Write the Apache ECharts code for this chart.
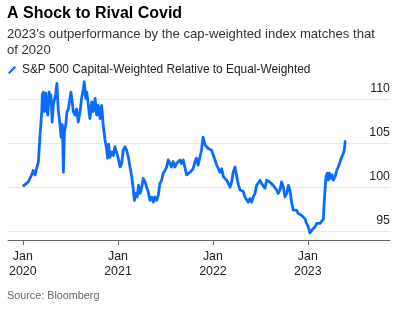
<!DOCTYPE html>
<html>
<head>
<meta charset="utf-8">
<script src="https://cdn.jsdelivr.net/npm/echarts@6/dist/echarts.min.js"></script>
<style>
  html, body { margin: 0; padding: 0; background: #fff; }
  #chart { width: 399px; height: 324px; }
</style>
</head>
<body>
<div id="chart"></div>
<script>
// S&P 500 cap-weighted index relative to the equal-weighted index (rebased to 100)
const dates = [
  '2020-01-01','2020-01-22','2020-02-04','2020-02-10','2020-02-17','2020-02-23','2020-03-01',
  '2020-03-07','2020-03-14','2020-03-16','2020-03-20','2020-03-24','2020-03-29','2020-04-02',
  '2020-04-06','2020-04-11','2020-04-15','2020-04-18','2020-04-23','2020-04-27','2020-05-01',
  '2020-05-06','2020-05-11','2020-05-16','2020-05-23','2020-05-27','2020-06-01','2020-06-05',
  '2020-06-09','2020-06-14','2020-06-19','2020-06-24','2020-07-01','2020-07-04','2020-07-09',
  '2020-07-13','2020-07-20','2020-07-26','2020-08-01','2020-08-08','2020-08-14','2020-08-21',
  '2020-08-24','2020-08-30','2020-09-03','2020-09-09','2020-09-15','2020-09-22','2020-09-28',
  '2020-10-05','2020-10-11','2020-10-17','2020-10-24','2020-10-30','2020-11-05','2020-11-12',
  '2020-11-18','2020-11-22','2020-11-26','2020-12-01','2020-12-08','2020-12-14','2020-12-20',
  '2020-12-27','2021-01-02','2021-01-09','2021-01-15','2021-01-21','2021-01-28','2021-02-03',
  '2021-02-10','2021-02-16','2021-02-23','2021-03-01','2021-03-05','2021-03-11','2021-03-16',
  '2021-03-21','2021-03-27','2021-04-02','2021-04-08','2021-04-15','2021-04-21','2021-04-27',
  '2021-05-04','2021-05-11','2021-05-17','2021-05-23','2021-05-30','2021-06-05','2021-06-11',
  '2021-06-18','2021-06-24','2021-07-01','2021-07-07','2021-07-13','2021-07-20','2021-07-26',
  '2021-08-01','2021-08-08','2021-08-14','2021-08-20','2021-08-27','2021-09-02','2021-09-09',
  '2021-09-15','2021-09-22','2021-09-28','2021-10-05','2021-10-11','2021-10-17','2021-10-24',
  '2021-10-30','2021-11-05','2021-11-12','2021-11-18','2021-11-24','2021-12-02','2021-12-08',
  '2021-12-14','2021-12-21','2021-12-27','2022-01-03','2022-01-09','2022-01-16','2022-01-22',
  '2022-01-28','2022-02-04','2022-02-10','2022-02-23','2022-03-08','2022-03-14','2022-03-20',
  '2022-03-27','2022-04-02','2022-04-08','2022-04-15','2022-04-21','2022-04-28','2022-05-04',
  '2022-05-11','2022-05-17','2022-05-23','2022-05-30','2022-06-05','2022-06-12','2022-06-18',
  '2022-06-24','2022-07-01','2022-07-07','2022-07-14','2022-07-20','2022-07-27','2022-08-02',
  '2022-08-08','2022-08-15','2022-08-21','2022-08-28','2022-09-03','2022-09-09','2022-09-16',
  '2022-09-22','2022-09-29','2022-10-05','2022-10-12','2022-10-18','2022-10-24','2022-10-31',
  '2022-11-06','2022-11-13','2022-11-19','2022-11-25','2022-12-02','2022-12-08','2022-12-14',
  '2022-12-21','2022-12-27','2023-01-03','2023-01-09','2023-01-16','2023-01-22','2023-01-29',
  '2023-02-04','2023-02-10','2023-02-17','2023-02-23','2023-03-02','2023-03-04','2023-03-08',
  '2023-03-12','2023-03-17','2023-03-21','2023-03-25','2023-03-30','2023-04-04','2023-04-09',
  '2023-04-16','2023-04-22','2023-04-28','2023-05-05','2023-05-11','2023-05-17','2023-05-21',
  '2023-05-25','2023-05-28'
];
const relative = [
  100.1,100.6,101.4,101.9,101.4,102.1,102.9,
  105.9,108.6,110.5,110.8,108.6,110.7,108.9,
  108.2,110.8,109.7,110.5,107.4,109.3,109.9,
  110.5,111.8,108.9,107.1,105.7,107.1,101.7,
  106.3,107.1,108.6,108.9,108.9,110.8,109.7,
  108.6,108.2,108.9,107.4,108.6,110.1,111.2,
  112.0,110.1,110.8,109.3,107.8,109.7,108.6,
  110.1,108.2,109.3,107.8,109.3,107.1,105.4,
  104.4,103.3,104.9,103.4,104.0,103.6,104.6,
  104.8,103.3,102.3,102.7,104.2,104.6,104.2,
  103.4,102.3,101.2,99.7,98.5,99.3,98.9,
  100.2,99.3,99.9,101.0,100.6,100.0,99.5,
  98.5,98.9,98.3,98.9,98.5,99.1,100.4,
  100.8,101.6,101.9,102.3,103.1,102.7,102.3,
  102.9,102.3,102.7,102.9,103.1,102.7,103.1,
  102.3,101.4,101.2,101.7,101.9,102.1,102.9,
  103.3,102.5,103.4,104.2,105.7,104.8,105.0,
  104.4,104.6,104.2,103.6,103.1,102.5,102.7,
  101.7,102.1,101.2,100.8,100.0,100.6,101.7,
  102.3,102.1,100.4,99.7,99.9,99.5,98.9,
  98.7,98.3,98.7,98.3,98.9,99.3,100.2,
  100.2,100.8,100.4,100.6,99.9,100.8,101.0,
  100.6,100.4,100.2,100.0,99.7,99.3,99.7,
  100.6,100.0,98.9,99.3,100.2,99.7,98.2,
  97.4,97.2,97.4,97.0,97.2,96.8,96.6,
  96.4,95.9,95.5,94.8,95.1,95.3,95.5,
  95.9,96.1,95.9,96.1,96.4,97.8,99.7,
  101.2,101.6,100.8,101.6,101.0,101.4,100.8,
  101.2,101.9,102.3,102.9,103.4,103.8,104.2,
  105.2,105.2
];

const yTicks = [95, 100, 105, 110];
const xTickDates = ['2020-01-01', '2021-01-01', '2022-01-01', '2023-01-01'];
const xTickMonth = 'Jan';
const xRange = ['2019-11-05', '2023-11-13'];

const titleText = 'A Shock to Rival Covid';
const subtitleText = "2023's outperformance by the cap-weighted index matches that\nof 2020";
const seriesName = 'S&P 500 Capital-Weighted Relative to Equal-Weighted';
const sourceText = 'Source: Bloomberg';

const FONT = '"Liberation Sans", Arial, Helvetica, sans-serif';
const LINE_BLUE = '#0a6cff';

const toTime = d => Date.UTC(+d.slice(0, 4), +d.slice(5, 7) - 1, +d.slice(8, 10));

const chart = echarts.init(document.getElementById('chart'), null, { renderer: 'canvas' });

const xTickValues = xTickDates.map(toTime);

chart.setOption({
  animation: false,
  backgroundColor: '#ffffff',
  textStyle: { fontFamily: FONT },
  title: [
    {
      text: titleText,
      left: 7, top: 6, padding: 0,
      textStyle: { fontFamily: FONT, fontSize: 16, fontWeight: 'bold', color: '#000' }
    },
    {
      text: subtitleText,
      left: 7, top: 26, padding: 0,
      textStyle: { fontFamily: FONT, fontSize: 13.1, fontWeight: 'normal', color: '#333', lineHeight: 16 }
    },
    {
      text: sourceText,
      left: 7, top: 291, padding: 0,
      textStyle: { fontFamily: FONT, fontSize: 10.8, fontWeight: 'normal', color: '#666' }
    }
  ],
  legend: {
    left: 8, top: 64, padding: 0,
    itemWidth: 8, itemHeight: 10,
    itemGap: 6,
    icon: 'path://M0,9 L8,1 L10,3 L2,11 Z',
    textStyle: { fontFamily: FONT, fontSize: 11.9, color: '#222', padding: [0, 0, 0, 1] },
    data: [{ name: seriesName, itemStyle: { color: LINE_BLUE } }]
  },
  grid: { left: 8, right: 9, top: 77.2, bottom: 84, containLabel: false },
  xAxis: {
    type: 'value',
    min: toTime(xRange[0]),
    max: toTime(xRange[1]),
    axisLine: { show: true, lineStyle: { color: '#666', width: 1 } },
    axisTick: { show: true, length: 5, lineStyle: { color: '#666' }, customValues: xTickValues },
    splitLine: { show: false },
    axisLabel: {
      customValues: xTickValues,
      margin: 9,
      fontFamily: FONT, fontSize: 12.4, color: '#222', lineHeight: 15,
      formatter: v => xTickMonth + '\n' + new Date(v).getUTCFullYear()
    }
  },
  yAxis: {
    type: 'value',
    position: 'right',
    min: 94, max: 112.5,
    axisLine: { show: false },
    axisTick: { show: false, customValues: yTicks },
    splitLine: { show: true, lineStyle: { color: '#e8e8e8', width: 1 } },
    axisLabel: {
      customValues: yTicks,
      inside: true,
      margin: 0,
      align: 'right',
      verticalAlign: 'bottom',
      padding: [0, 0, 5, 0],
      fontFamily: FONT, fontSize: 12.4, color: '#222'
    }
  },
  series: [{
    name: seriesName,
    type: 'line',
    showSymbol: false,
    symbol: 'none',
    data: dates.map((d, i) => [toTime(d), relative[i]]),
    lineStyle: { color: LINE_BLUE, width: 2.8, join: 'round' },
    itemStyle: { color: LINE_BLUE }
  }]
});
</script>
</body>
</html>
